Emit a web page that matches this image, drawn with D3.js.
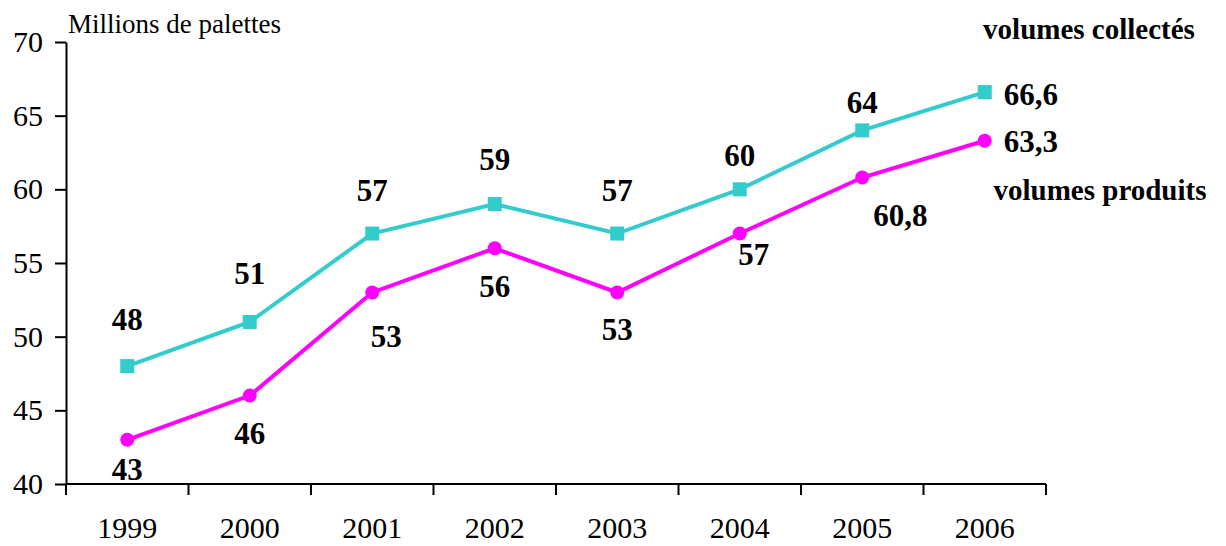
<!DOCTYPE html>
<html>
<head>
<meta charset="utf-8">
<script src="https://cdn.jsdelivr.net/npm/d3@7"></script>
<style>
  html, body { margin: 0; padding: 0; background: #fff; }
  svg { display: block; font-family: "Liberation Serif", "Times New Roman", serif; }
</style>
</head>
<body>
<svg id="chart" width="1226" height="546"></svg>
<script>
const years = ["1999", "2000", "2001", "2002", "2003", "2004", "2005", "2006"];
const collectes = [48, 51, 57, 59, 57, 60, 64, 66.6];
const produits = [43, 46, 53, 56, 53, 57, 60.8, 63.3];
const yTicks = [40, 45, 50, 55, 60, 65, 70];

// label offsets (px) relative to each point
const collectesLabelOffset = [[0, -47], [0, -49], [0, -43], [0, -45], [0, -43], [0, -34], [0, -28], [46, 2]];
const produitsLabelOffset = [[0, 29], [0, 38], [14, 44], [0, 38], [0, 37], [14, 21], [38, 38], [46, 0]];

const fmt = v => String(v).replace(".", ",");
const serif = "'Liberation Serif', 'Times New Roman', serif";

const svg = d3.select("#chart");
const mLeft = 66, mRight = 1046, mTop = 42, mBottom = 484;

const x = d3.scaleBand().domain(years).range([mLeft, mRight]).padding(0);
const y = d3.scaleLinear().domain([40, 70]).range([mBottom, mTop]);
const cx = d => x(d) + x.bandwidth() / 2;

// y axis
const yAxis = svg.append("g")
  .attr("transform", `translate(${mLeft},0)`)
  .call(d3.axisLeft(y).tickValues(yTicks).tickSize(11).tickSizeOuter(0).tickPadding(12))
  .attr("font-family", serif);
yAxis.select(".domain").attr("stroke", "#000").attr("stroke-width", 2);
yAxis.selectAll(".tick line").attr("stroke", "#000").attr("stroke-width", 2);
yAxis.selectAll(".tick text").attr("font-size", 30).attr("fill", "#000");

// x axis with ticks at band boundaries
const xAxisG = svg.append("g").attr("transform", `translate(0,${mBottom})`);
xAxisG.append("line").attr("x1", mLeft).attr("x2", mRight).attr("stroke", "#000").attr("stroke-width", 2);
const bounds = years.map(d => x(d)).concat([mRight]);
xAxisG.selectAll("line.tk").data(bounds).join("line")
  .attr("class", "tk")
  .attr("x1", d => d).attr("x2", d => d).attr("y1", 0).attr("y2", 11)
  .attr("stroke", "#000").attr("stroke-width", 2);
xAxisG.selectAll("text").data(years).join("text")
  .attr("x", d => cx(d)).attr("y", 54)
  .attr("text-anchor", "middle").attr("font-size", 30).attr("fill", "#000")
  .text(d => d);

// unit title
svg.append("text").attr("x", 68).attr("y", 33).attr("font-size", 27).attr("fill", "#000")
  .text("Millions de palettes");

const line = d3.line().x((d, i) => cx(years[i])).y(d => y(d));

const cyan = "#33CCCC", magenta = "#FF00FF";

// volumes produits
svg.append("path").datum(produits).attr("d", line)
  .attr("fill", "none").attr("stroke", magenta).attr("stroke-width", 4);
svg.selectAll("circle.p").data(produits).join("circle").attr("class", "p")
  .attr("cx", (d, i) => cx(years[i])).attr("cy", d => y(d)).attr("r", 7).attr("fill", magenta);

// volumes collectés
svg.append("path").datum(collectes).attr("d", line)
  .attr("fill", "none").attr("stroke", cyan).attr("stroke-width", 4);
svg.selectAll("rect.c").data(collectes).join("rect").attr("class", "c")
  .attr("x", (d, i) => cx(years[i]) - 7).attr("y", d => y(d) - 7)
  .attr("width", 14).attr("height", 14).attr("fill", cyan);

// value labels
function labels(data, offsets, cls) {
  svg.selectAll("text." + cls).data(data).join("text").attr("class", cls)
    .attr("x", (d, i) => cx(years[i]) + offsets[i][0])
    .attr("y", (d, i) => y(d) + offsets[i][1])
    .attr("dy", "0.35em")
    .attr("text-anchor", "middle")
    .attr("font-size", 31).attr("font-weight", "bold").attr("fill", "#000")
    .text(d => fmt(d));
}
labels(collectes, collectesLabelOffset, "lc");
labels(produits, produitsLabelOffset, "lp");

// series names
svg.append("text").attr("x", 1089).attr("y", 29).attr("dy", "0.35em").attr("text-anchor", "middle")
  .attr("font-size", 29).attr("font-weight", "bold").text("volumes collectés");
svg.append("text").attr("x", 1100).attr("y", 190).attr("dy", "0.35em").attr("text-anchor", "middle")
  .attr("font-size", 29).attr("font-weight", "bold").text("volumes produits");
</script>
</body>
</html>
